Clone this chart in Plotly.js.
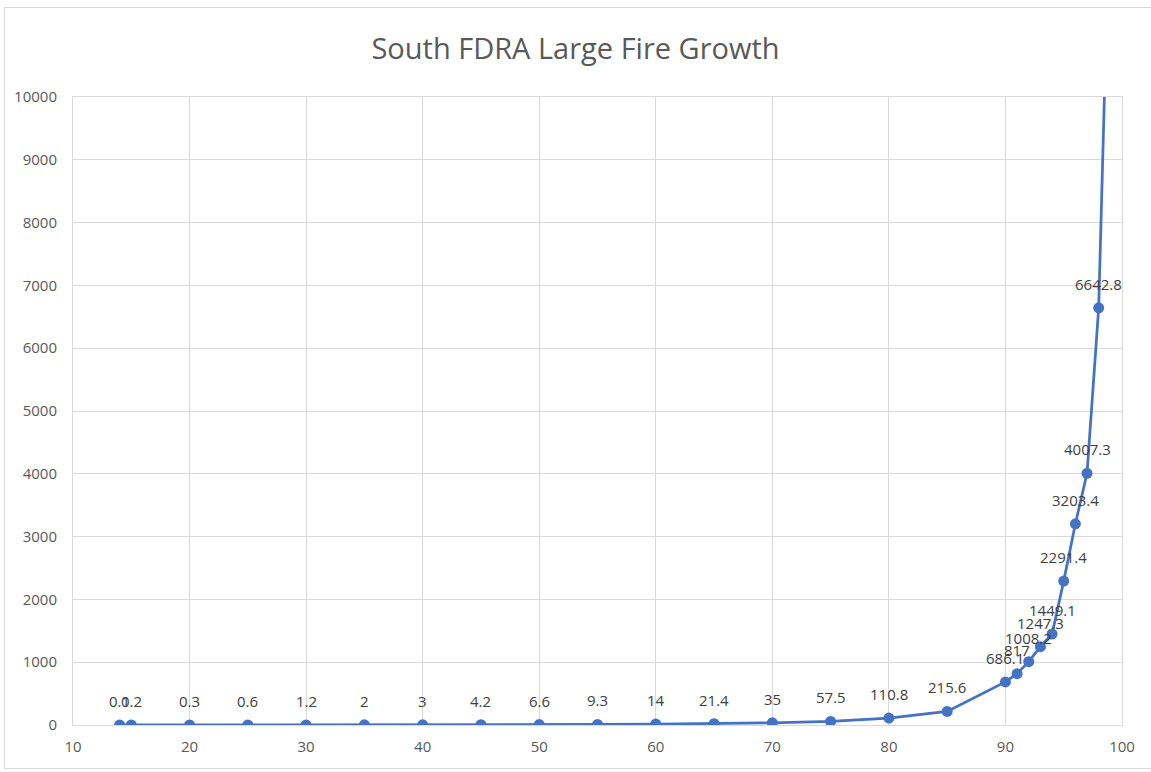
<!DOCTYPE html>
<html>
<head>
<meta charset="utf-8">
<script src="https://cdn.plot.ly/plotly-3.0.1.min.js"></script>
<style>
  html, body { margin: 0; padding: 0; background: #ffffff; }
  #frame { position: absolute; left: 4px; top: 7px; width: 1160px; height: 762px;
           border: 1px solid #d9d9d9; box-sizing: border-box; }
  #chart { position: absolute; left: 0; top: 0; width: 1151px; height: 772px; }
</style>
</head>
<body>
<div id="frame"></div>
<div id="chart"></div>
<script>
// Percentile (x) and fire growth (y) for the South FDRA
const percentiles = [14, 15, 20, 25, 30, 35, 40, 45, 50, 55, 60, 65, 70, 75, 80, 85, 90, 91, 92, 93, 94, 95, 96, 97, 98, 99];
const growth = [0.1, 0.2, 0.3, 0.6, 1.2, 2, 3, 4.2, 6.6, 9.3, 14, 21.4, 35, 57.5, 110.8, 215.6, 686.1, 817, 1008.2, 1247.3, 1449.1, 2291.4, 3203.4, 4007.3, 6642.8, 13500];

const xTicks = [10, 20, 30, 40, 50, 60, 70, 80, 90, 100];
const yTicks = [0, 1000, 2000, 3000, 4000, 5000, 6000, 7000, 8000, 9000, 10000];
const yMax = 10000;

const font = 'Open Sans, sans-serif';

const trace = {
  type: 'scatter',
  mode: 'lines+markers',
  x: percentiles,
  y: growth,
  line: { color: '#4472C4', width: 2.75 },
  marker: { color: '#4472C4', size: 11 },
  cliponaxis: true,
  hoverinfo: 'x+y'
};

// Value labels above each point that falls inside the visible range
const valueLabels = percentiles
  .map((x, i) => ({ x: x, y: growth[i] }))
  .filter(p => p.y <= yMax)
  .map(p => ({
    x: p.x, y: p.y, xref: 'x', yref: 'y',
    text: String(p.y),
    showarrow: false,
    xanchor: 'center', yanchor: 'bottom',
    yshift: 12,
    font: { family: font, size: 15, color: '#404040' }
  }));

const layout = {
  width: 1151,
  height: 772,
  paper_bgcolor: 'rgba(0,0,0,0)',
  plot_bgcolor: '#ffffff',
  margin: { l: 73, r: 29, t: 97, b: 47 },
  showlegend: false,
  annotations: valueLabels,
  title: {
    text: 'South FDRA Large Fire Growth',
    font: { family: font, size: 29, color: '#595959' },
    x: 0.5, xanchor: 'center', y: 0.937, yanchor: 'middle'
  },
  xaxis: {
    range: [10, 100],
    tickvals: xTicks,
    ticktext: xTicks.map(String),
    showgrid: true,
    gridcolor: '#d9d9d9',
    gridwidth: 1,
    zeroline: false,
    showline: true,
    linecolor: '#d9d9d9',
    mirror: true,
    ticks: '',
    ticklen: 0,
    ticklabelstandoff: 8,
    tickfont: { family: font, size: 15, color: '#595959' }
  },
  yaxis: {
    range: [0, yMax],
    tickvals: yTicks,
    ticktext: yTicks.map(String),
    showgrid: true,
    gridcolor: '#d9d9d9',
    gridwidth: 1,
    zeroline: false,
    showline: true,
    linecolor: '#d9d9d9',
    mirror: true,
    ticks: '',
    ticklen: 0,
    ticklabelstandoff: 12,
    tickfont: { family: font, size: 15, color: '#595959' }
  }
};

Plotly.newPlot('chart', [trace], layout, { displayModeBar: false, staticPlot: true });
</script>
</body>
</html>
